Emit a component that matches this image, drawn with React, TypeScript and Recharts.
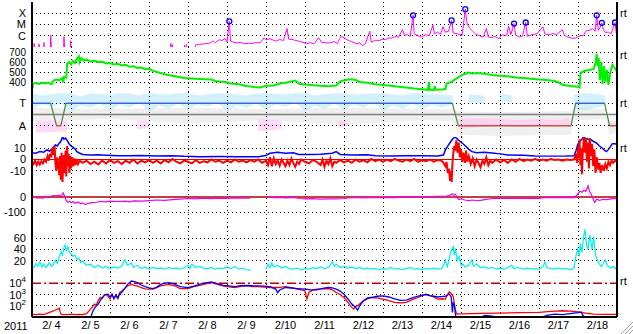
import React from "react";
import { ComposedChart, Line, Area, XAxis, YAxis, ReferenceLine } from "recharts";

// ── Data (t = days since 2011-02-04 00:00 UT) ────────────────────────────────

type Pt = [number, number | null];
type Band = [number, number | null, number | null];

const DAY_LABELS = ["2/ 4", "2/ 5", "2/ 6", "2/ 7", "2/ 8", "2/ 9", "2/10", "2/11", "2/12", "2/13", "2/14", "2/15", "2/16", "2/17", "2/18"];
const YEAR_LABEL = "2011";

const XRAY_CLASSES = ["X", "M", "C"];
const XRAY_CLASS_FLUX = [1e-4, 1e-5, 1e-6];
const SECTOR_LABELS = ["T", "A"];
const SECTOR_TICKS = [1, -1];

// GOES X-ray flux, W/m2
const XRAY: Pt[] = [
  [0, 5e-8], [0.05, 5e-8], [0.054, 2.1e-7], [0.06, 5e-8], [0.17, 5e-8], [0.18, 1.9e-7], [0.19, 5e-8],
  [0.3, 5e-8], [0.31, 2.5e-7], [0.32, 5e-8], [0.47, 5e-8], [0.48, 1.1e-6], [0.5, 5e-8], [0.81, 5e-8],
  [0.82, 7.9e-7], [0.84, 5e-8], [0.98, 5e-8], [0.99, 3.6e-7], [1.0, 5e-8], [3.55, 5e-8], [3.56, 2.1e-7],
  [3.58, 5e-8], [3.6, 1.6e-7], [3.62, 5e-8], [3.9, 5e-8], [3.91, 1.4e-7], [3.93, 5e-8], [3.96, 1.6e-7],
  [3.98, 5e-8], [4.18, 5e-8], [4.19, 1.5e-7], [4.3, 1.7e-7], [4.4, 1.9e-7], [4.5, 2.1e-7], [4.57, 2.3e-7],
  [4.65, 3.5e-7], [4.7, 2.4e-7], [4.8, 4.4e-7], [4.87, 3.8e-7], [4.95, 5.5e-7], [5.0, 2.8e-7], [5.06, 1.9e-5],
  [5.09, 3.3e-7], [5.15, 2.8e-7], [5.26, 2.3e-7], [5.35, 2.6e-7], [5.46, 1.9e-7], [5.55, 2.2e-7], [5.66, 2.1e-7],
  [5.75, 2.5e-7], [5.85, 2.3e-7], [5.95, 6.6e-7], [6.0, 4.4e-7], [6.1, 5.4e-7], [6.25, 3.3e-7], [6.35, 4.6e-7],
  [6.45, 3.8e-7], [6.54, 4.4e-6], [6.58, 5.0e-7], [6.7, 4.4e-7], [6.84, 3.3e-7], [6.95, 2.6e-7], [7.04, 2.0e-7],
  [7.15, 2.4e-7], [7.23, 1.9e-7], [7.35, 6.6e-7], [7.43, 2.6e-7], [7.55, 2.3e-7], [7.63, 2.3e-7], [7.75, 3.0e-7],
  [7.83, 2.1e-7], [7.92, 8.7e-7], [7.97, 7.6e-7], [8.05, 5.0e-7], [8.12, 3.8e-7], [8.2, 3.0e-7], [8.32, 1.9e-7],
  [8.4, 2.4e-7], [8.47, 1.3e-7], [8.55, 2.0e-7], [8.66, 2.5e-6], [8.7, 2.6e-7], [8.8, 4.0e-7], [8.91, 3.8e-7],
  [9.0, 5.0e-7], [9.06, 4.4e-7], [9.15, 6.6e-7], [9.21, 6.2e-7], [9.3, 8.0e-7], [9.4, 7.6e-7], [9.5, 3.5e-6],
  [9.55, 1.07e-6], [9.63, 1.3e-6], [9.7, 8.7e-7], [9.77, 6.6e-5], [9.8, 1.5e-6], [9.9, 1.0e-6], [9.99, 7.6e-7],
  [10.08, 1.2e-6], [10.19, 1.07e-6], [10.28, 8.7e-6], [10.32, 1.5e-6], [10.4, 2.1e-6], [10.47, 1.3e-6],
  [10.54, 6.2e-6], [10.6, 2.1e-6], [10.68, 2.5e-6], [10.76, 2.3e-5], [10.8, 1.8e-6], [10.9, 1.5e-6],
  [11.03, 1.07e-6], [11.11, 2.3e-4], [11.16, 1.0e-5], [11.23, 4.4e-6], [11.3, 2.5e-6], [11.37, 1.5e-6],
  [11.47, 1.0e-6], [11.57, 7.6e-7], [11.65, 4.4e-6], [11.7, 8.0e-7], [11.77, 6.6e-7], [11.87, 8.7e-7],
  [11.97, 5.4e-7], [12.05, 1.2e-6], [12.17, 1.07e-6], [12.22, 7.1e-6], [12.28, 1.3e-6], [12.36, 1.2e-5],
  [12.4, 1.1e-6], [12.5, 7.6e-7], [12.58, 1.0e-6], [12.66, 1.5e-5], [12.7, 9.0e-7], [12.8, 1.2e-6],
  [12.95, 1.5e-6], [13.1, 6.2e-6], [13.15, 1.5e-6], [13.25, 1.2e-6], [13.35, 1.5e-6], [13.45, 1.3e-6],
  [13.6, 3.5e-6], [13.65, 1.07e-6], [13.74, 7.6e-7], [13.85, 6.0e-7], [13.94, 6.2e-7], [14.05, 1.0e-6],
  [14.14, 1.07e-6], [14.22, 3.0e-6], [14.29, 3.0e-6], [14.38, 4.4e-6], [14.44, 2.5e-6], [14.48, 6.6e-5],
  [14.52, 3.0e-6], [14.56, 5.0e-6], [14.61, 1.4e-5], [14.65, 3.5e-6], [14.7, 2.0e-6], [14.78, 2.1e-6],
  [14.85, 1.5e-6], [14.95, 1.5e-5], [14.98, 1.8e-6], [15, 1.5e-6],
];

// flares of class M and above
const FLARES: Pt[] = [
  [5.06, 1.9e-5], [9.77, 6.6e-5], [10.76, 2.3e-5], [11.11, 2.3e-4], [12.36, 1.2e-5],
  [12.66, 1.5e-5], [14.48, 6.6e-5], [14.61, 1.4e-5], [14.95, 1.5e-5],
];

// solar wind speed, km/s
const SPEED: Pt[] = [
  [0, 320], [0.03, 385], [0.1, 390], [0.18, 380], [0.25, 392], [0.33, 385], [0.42, 395], [0.5, 378],
  [0.55, 415], [0.62, 425], [0.7, 418], [0.78, 440], [0.8, 395], [0.82, 450], [0.88, 445], [0.9, 580],
  [0.95, 600], [1.0, 575], [1.05, 610], [1.1, 590], [1.15, 630], [1.2, 655], [1.22, 600], [1.26, 640],
  [1.32, 615], [1.4, 625], [1.5, 605], [1.6, 612], [1.7, 598], [1.8, 605], [1.9, 585], [2.0, 590],
  [2.1, 575], [2.2, 582], [2.3, 565], [2.4, 572], [2.5, 552], [2.6, 558], [2.7, 540], [2.8, 545],
  [2.9, 528], [3.0, 532], [3.1, 512], [3.2, 500], [3.3, 490], [3.4, 478], [3.5, 470], [3.6, 462],
  [3.7, 455], [3.8, 448], [3.9, 440], [4.0, 437], [4.2, 432], [4.4, 428], [4.6, 425], [4.7, 410],
  [4.8, 405], [5.0, 398], [5.1, 385], [5.3, 378], [5.5, 360], [5.7, 350], [5.85, 345], [6.0, 362],
  [6.2, 365], [6.35, 385], [6.5, 392], [6.65, 405], [6.75, 415], [6.85, 382], [7.0, 375], [7.2, 368],
  [7.4, 362], [7.6, 358], [7.8, 365], [7.9, 405], [8.0, 415], [8.1, 425], [8.2, 428], [8.3, 420],
  [8.4, 400], [8.6, 392], [8.8, 378], [9.0, 370], [9.2, 362], [9.4, 352], [9.6, 345], [9.8, 335],
  [10.0, 328], [10.15, 322], [10.18, 400], [10.2, 322], [10.3, 320], [10.33, 360], [10.35, 322],
  [10.5, 325], [10.6, 330], [10.63, 385], [10.7, 392], [10.78, 405], [10.88, 435], [10.95, 450],
  [11.03, 472], [11.1, 480], [11.18, 495], [11.3, 485], [11.4, 490], [11.6, 482], [11.8, 470],
  [12.0, 462], [12.2, 458], [12.4, 445], [12.6, 440], [12.8, 432], [13.0, 425], [13.2, 420],
  [13.4, 410], [13.5, 395], [13.6, 372], [13.8, 360], [14.0, 352], [14.04, 345], [14.06, 480],
  [14.1, 500], [14.2, 515], [14.3, 520], [14.4, 530], [14.45, 590], [14.48, 680], [14.5, 560],
  [14.53, 640], [14.56, 420], [14.6, 600], [14.63, 380], [14.67, 560], [14.7, 400], [14.74, 520],
  [14.78, 370], [14.82, 480], [14.88, 570], [14.93, 545], [15, 505],
];

// IMF sector: 1 = toward, -1 = away
const SECTOR: Pt[] = [
  [0, 1], [0.48, 1], [0.63, -1], [0.74, -1], [0.87, 1], [10.78, 1], [10.93, -1],
  [13.82, -1], [13.94, 1], [14.68, 1], [14.81, -1], [15, -1],
];

// IMF angle clouds: [t, low, high]
const TOWARD_CLOUD: Band[] = [
  [0, 0.5, 1.9], [0.25, 0.9, 1.7], [0.5, 0.7, 1.8], [0.75, 1.0, 1.9], [1, 0.3, 1.9], [1.25, 0.8, 1.6],
  [1.5, 0.6, 1.9], [1.75, 1.0, 1.8], [2, 0.3, 1.8], [2.25, 0.9, 1.9], [2.5, 0.6, 1.9], [2.75, 1.1, 1.7],
  [3, 0.2, 1.9], [3.25, 0.8, 1.8], [3.5, 0.5, 1.8], [3.75, 1.0, 1.9], [4, 0.4, 1.9], [4.25, 0.9, 1.7],
  [4.5, 0.7, 1.8], [4.75, 1.1, 1.9], [5, 0.3, 1.9], [5.25, 0.8, 1.8], [5.5, 0.6, 1.7], [5.75, 1.0, 1.9],
  [6, 0.4, 1.9], [6.25, 0.9, 1.8], [6.5, 0.7, 1.8], [6.75, 1.1, 1.9], [7, 0.3, 1.9], [7.25, 0.8, 1.7],
  [7.5, 0.5, 1.8], [7.75, 1.0, 1.9], [8, 0.4, 1.9], [8.25, 0.9, 1.8], [8.5, 0.6, 1.8], [8.75, 1.1, 1.9],
  [9, 0.3, 1.9], [9.25, 0.8, 1.8], [9.5, 0.5, 1.7], [9.75, 1.0, 1.9], [10, 0.4, 1.9], [10.25, 0.9, 1.8],
  [10.5, 0.6, 1.8], [10.8, 0.9, 1.7], [10.85, null, null], [11.2, 1.1, 1.8], [11.6, 1.0, 1.7],
  [11.65, null, null], [12.0, 1.2, 1.8], [12.3, 1.1, 1.7], [12.35, null, null], [13.9, 0.5, 1.8],
  [14.2, 0.4, 1.9], [14.5, 0.6, 1.8], [14.7, 0.9, 1.7], [14.75, null, null],
];
const MIXED_CLOUD: Band[] = [
  [0, -0.6, 0.6], [2, -0.4, 0.5], [4, -0.8, 0.6], [6, -0.5, 0.5], [8, -0.9, 0.6], [10, -0.5, 0.5],
  [10.8, -0.6, 0.5], [10.9, -1.8, 0.3], [12, -1.9, 0.2], [13.8, -1.8, 0.3], [13.9, -0.5, 0.6],
  [14.7, -0.4, 0.5], [14.8, -1.8, -0.5], [15, -1.6, -0.6],
];
const AWAY_CLOUD: Band[] = [
  [0.1, -1.6, -0.6], [0.9, -1.5, -0.5], [0.95, null, null], [2.7, -1.3, -0.5], [3.0, -1.2, -0.6],
  [3.1, null, null], [5.8, -1.5, -0.4], [6.4, -1.3, -0.5], [6.5, null, null], [7.85, -1.2, -0.5],
  [8.1, -1.0, -0.6], [8.2, null, null], [10.95, -1.3, -0.4], [11.5, -1.1, -0.3], [12, -1.0, -0.4],
  [12.5, -1.1, -0.5], [13, -1.0, -0.4], [13.5, -1.0, -0.5], [13.8, -1.1, -0.3], [13.85, null, null],
  [14.82, -1.0, -0.7], [15, -1.0, -0.7],
];

// IMF Bt, nT
const BT: Pt[] = [
  [0, 6], [0.1, 5.5], [0.2, 7], [0.3, 6.5], [0.38, 8.5], [0.45, 7.5], [0.5, 9], [0.55, 11], [0.6, 13],
  [0.65, 12], [0.7, 14.5], [0.74, 16], [0.78, 20], [0.82, 18], [0.86, 19], [0.9, 17], [0.95, 14],
  [1.0, 12], [1.05, 11], [1.1, 9.5], [1.15, 7], [1.2, 6], [1.3, 4.5], [1.5, 4], [1.7, 4.2], [1.9, 3.8],
  [2.2, 3.4], [2.5, 3.3], [2.8, 3.5], [3.2, 3.2], [3.6, 3.3], [3.9, 2.8], [4.3, 2.5], [4.8, 2.6],
  [5.3, 2.4], [5.8, 2.5], [6.0, 3.5], [6.1, 5.5], [6.3, 6.5], [6.5, 5.5], [6.7, 6], [6.84, 4.5],
  [7.1, 4.4], [7.4, 4.6], [7.7, 5.5], [7.8, 7], [7.9, 4.5], [8.2, 4], [8.6, 4.2], [8.8, 3.3],
  [9.2, 3.2], [9.6, 3.4], [10.0, 3.3], [10.4, 3.2], [10.55, 4], [10.6, 8.5], [10.68, 13], [10.74, 16],
  [10.78, 18], [10.84, 20], [10.88, 19], [10.93, 17.5], [10.98, 16], [11.05, 14], [11.13, 11.5],
  [11.2, 9], [11.28, 7], [11.4, 6], [11.6, 6.5], [11.8, 5.8], [12.0, 5], [12.2, 4], [12.6, 3.8],
  [12.9, 3.2], [13.3, 3], [13.7, 3.1], [13.9, 3.4], [13.95, 8], [13.99, 13], [14.04, 16], [14.09, 17.5],
  [14.14, 20], [14.19, 19], [14.26, 18], [14.33, 17.5], [14.4, 16], [14.48, 14.5], [14.55, 12],
  [14.63, 10], [14.68, 8], [14.73, 7], [14.78, 9], [14.83, 11.5], [14.88, 14], [14.95, 14], [15, 13.5],
];

// IMF Bz, nT
const BZ: Pt[] = [
  [0, -2], [0.04, -4], [0.08, -1], [0.12, -5], [0.16, -2], [0.2, -4.5], [0.24, -1.5], [0.28, -3.5],
  [0.32, 0], [0.36, -2], [0.4, 3], [0.43, -1], [0.46, 5], [0.49, 2], [0.52, 10], [0.55, 4], [0.58, 12],
  [0.6, -3], [0.62, -10], [0.65, 2], [0.68, -8], [0.7, -14], [0.72, 3], [0.74, -18], [0.76, 6],
  [0.78, -21], [0.8, -5], [0.82, 4], [0.84, -12], [0.86, 8], [0.88, -15], [0.9, 12], [0.92, -6],
  [0.94, 5], [0.96, -12], [0.98, 3], [1.0, -8], [1.03, 2], [1.06, -6], [1.09, 1], [1.12, -5], [1.15, 0],
  [1.18, -4], [1.22, -1], [1.3, -3], [1.4, -1], [1.5, -4], [1.6, -2], [1.7, -4.5], [1.8, -1], [1.9, -3.5],
  [2.0, -0.5], [2.1, -3], [2.2, -1.5], [2.3, -4], [2.4, -1], [2.5, -3], [2.6, 0], [2.7, -3.5], [2.8, -1],
  [2.9, -2.5], [3.0, -0.5], [3.1, -3], [3.2, -1], [3.3, -3.5], [3.4, -0.5], [3.5, -2.5], [3.6, 0.5],
  [3.7, -2], [3.8, -3.5], [3.9, -1], [4.0, -2], [4.1, -3.5], [4.2, -0.5], [4.3, -3], [4.4, -1.5],
  [4.5, -2.5], [4.6, 0], [4.7, -2], [4.8, -1], [4.9, -3], [5.0, -1], [5.1, -2.5], [5.2, 0], [5.3, -2],
  [5.4, -1], [5.5, -2.5], [5.6, -0.5], [5.7, -2], [5.8, 0], [5.9, -3], [6.0, -1], [6.05, -5], [6.1, 2],
  [6.15, -6], [6.2, 1], [6.25, -4], [6.3, -1], [6.35, -5.5], [6.4, 0], [6.45, -3], [6.5, -6], [6.55, -1],
  [6.6, -5], [6.65, 1], [6.7, -3], [6.75, -6.5], [6.8, -2], [6.85, -4], [6.9, 0], [7.0, -2], [7.1, -3.5],
  [7.2, -0.5], [7.3, -2], [7.4, -5], [7.45, 0], [7.5, -6.5], [7.55, -1], [7.6, -4], [7.65, 1], [7.7, -6],
  [7.75, -2], [7.8, -3], [7.9, -0.5], [8.0, -2.5], [8.1, -1], [8.2, -3], [8.3, 0], [8.4, -2], [8.5, -0.5],
  [8.6, -2.5], [8.7, 0.5], [8.8, -1.5], [8.9, 0], [9.0, -2], [9.1, 0], [9.2, -1.5], [9.3, 0.5], [9.4, -1],
  [9.5, -2], [9.6, 0], [9.7, -1.5], [9.8, 0.5], [9.9, -2], [10.0, -0.5], [10.1, -1.5], [10.2, 0],
  [10.3, -2], [10.4, -0.5], [10.5, -1], [10.55, -3], [10.6, -6], [10.63, -2], [10.66, -12], [10.69, -8],
  [10.72, -19], [10.74, -10], [10.76, -21], [10.78, -4], [10.8, 5], [10.83, 12], [10.86, 8], [10.88, 17],
  [10.91, 6], [10.94, 15], [10.97, 2], [11.0, 9], [11.03, -2], [11.06, 6], [11.1, -3], [11.13, 8],
  [11.16, -2], [11.2, 3], [11.25, -4], [11.3, 1], [11.35, -6], [11.4, 0], [11.45, -3], [11.5, -7],
  [11.55, -1], [11.6, -4], [11.65, 2], [11.7, -5], [11.75, -1], [11.8, -3], [11.9, 0], [12.0, -2.5],
  [12.1, -0.5], [12.2, -3], [12.3, 0], [12.4, -2], [12.5, 0.5], [12.6, -1.5], [12.7, 0], [12.8, -1],
  [12.9, 0.5], [13.0, -1], [13.1, 0], [13.2, -1], [13.3, 0.5], [13.4, -0.5], [13.5, 0], [13.6, -1],
  [13.7, 0], [13.8, -0.5], [13.9, 0], [13.95, 5], [13.98, -3], [14.0, 12], [14.02, 2], [14.04, 18],
  [14.06, -5], [14.08, 10], [14.1, -13], [14.12, 4], [14.15, 20], [14.18, 6], [14.2, 19], [14.23, -2],
  [14.25, 15], [14.28, -8], [14.3, 19], [14.33, 3], [14.36, 14], [14.39, -6], [14.42, 9], [14.45, -12],
  [14.48, 2], [14.52, -9], [14.55, -3], [14.58, -12], [14.62, -5], [14.66, -10], [14.7, -4], [14.74, -8],
  [14.78, -2], [14.82, -5], [14.86, -1], [14.9, -3], [14.95, -1], [15, -2],
];

// Dst, nT
const DST: Pt[] = [
  [0, 4], [0.08, 3], [0.13, -7], [0.2, -5], [0.3, -8], [0.33, 4], [0.45, 2], [0.53, 10], [0.62, 8],
  [0.7, 12], [0.75, 5], [0.8, 27], [0.83, 8], [0.87, -20], [0.92, -35], [0.97, -28], [1.0, -40],
  [1.05, -30], [1.1, -42], [1.17, -33], [1.25, -45], [1.3, -40], [1.37, -51], [1.45, -42], [1.55, -38],
  [1.65, -35], [1.75, -30], [1.9, -33], [2.0, -28], [2.2, -30], [2.4, -27], [2.5, -33], [2.6, -26],
  [2.8, -28], [3.0, -24], [3.2, -20], [3.4, -22], [3.6, -18], [3.8, -14], [4.0, -10], [4.2, -12],
  [4.4, -8], [4.6, -11], [4.8, -7], [5.0, -9], [5.2, -6], [5.4, -8], [5.6, -7], [5.62, null],
  [6.05, 0], [6.2, -4], [6.4, -2], [6.5, -6], [6.7, -3], [6.85, -10], [7.0, -13], [7.2, -11],
  [7.4, -14], [7.6, -12], [7.8, -13], [8.0, -10], [8.15, -5], [8.3, -2], [8.5, -6], [8.7, -3],
  [8.9, -5], [9.1, -2], [9.3, -4], [9.5, -1], [9.7, -3], [9.8, 2], [10.0, 3], [10.2, 1], [10.4, 4],
  [10.6, 5], [10.7, 10], [10.78, 22], [10.82, 12], [10.86, 18], [10.9, -5], [10.95, -18], [11.0, -12],
  [11.1, -20], [11.2, -24], [11.3, -20], [11.4, -25], [11.5, -22], [11.65, -16], [11.8, -10],
  [12.0, -8], [12.2, -10], [12.4, -7], [12.6, -9], [12.8, -8], [13.0, -10], [13.1, -4], [13.3, -2],
  [13.5, -5], [13.7, -2], [13.9, -4], [14.0, 20], [14.05, 40], [14.1, 32], [14.15, 45], [14.2, 38],
  [14.26, 75], [14.3, 35], [14.33, 25], [14.38, -10], [14.43, -35], [14.48, -15], [14.55, -22],
  [14.65, -15], [14.75, -18], [14.85, -13], [15, -10],
];

// geomagnetic activity index (cyan panel)
const ACTIVITY: Pt[] = [
  [0, 12], [0.05, 8], [0.1, 15], [0.15, 10], [0.2, 18], [0.25, 9], [0.3, 14], [0.35, 8], [0.4, 12],
  [0.45, 16], [0.5, 10], [0.55, 14], [0.6, 21], [0.65, 15], [0.7, 28], [0.75, 36], [0.78, 30],
  [0.82, 44], [0.85, 48], [0.88, 38], [0.92, 45], [0.95, 36], [1.0, 32], [1.05, 28], [1.1, 30],
  [1.15, 22], [1.2, 25], [1.25, 17], [1.3, 19], [1.4, 12], [1.5, 14], [1.6, 8], [1.7, 12], [1.8, 7],
  [1.9, 10], [2.0, 6], [2.1, 9], [2.2, 7], [2.3, 10], [2.38, 22], [2.45, 12], [2.55, 16], [2.6, 8],
  [2.7, 12], [2.8, 6], [2.9, 9], [3.0, 5], [3.1, 8], [3.2, 6], [3.3, 7], [3.4, 5], [3.5, 8], [3.6, 6],
  [3.7, 7], [3.8, 5], [3.9, 8], [4.0, 12], [4.05, 6], [4.1, 14], [4.2, 8], [4.3, 10], [4.4, 7],
  [4.5, 6], [4.6, 8], [4.7, 5], [4.8, 7], [4.9, 6], [5.0, 9], [5.1, 6], [5.2, 10], [5.3, 5], [5.4, 7],
  [5.5, 4], [5.6, 3], [5.62, null], [6.0, 5], [6.05, 14], [6.1, 8], [6.15, 16], [6.2, 9], [6.3, 12],
  [6.4, 7], [6.5, 10], [6.6, 6], [6.7, 5], [6.8, 7], [6.9, 4], [7.0, 6], [7.1, 5], [7.2, 8], [7.3, 6],
  [7.4, 9], [7.5, 6], [7.6, 8], [7.7, 18], [7.75, 10], [7.8, 14], [7.9, 8], [8.0, 10], [8.1, 7],
  [8.2, 9], [8.3, 6], [8.4, 8], [8.5, 5], [8.6, 7], [8.7, 5], [8.8, 6], [8.9, 4], [9.0, 6], [9.1, 5],
  [9.2, 8], [9.3, 5], [9.4, 6], [9.5, 4], [9.6, 6], [9.7, 8], [9.8, 5], [9.9, 6], [10.0, 4], [10.1, 6],
  [10.2, 5], [10.3, 7], [10.4, 5], [10.5, 6], [10.55, 12], [10.6, 21], [10.65, 8], [10.7, 25],
  [10.75, 38], [10.8, 45], [10.83, 30], [10.86, 42], [10.9, 20], [10.95, 28], [11.0, 12], [11.05, 14],
  [11.1, 9], [11.2, 12], [11.28, 21], [11.32, 10], [11.4, 14], [11.5, 8], [11.6, 9], [11.7, 6],
  [11.8, 8], [11.9, 5], [12.0, 7], [12.1, 5], [12.2, 8], [12.3, 12], [12.35, 6], [12.45, 8], [12.6, 5],
  [12.7, 7], [12.8, 5], [12.9, 6], [13.0, 5], [13.1, 9], [13.15, 18], [13.2, 8], [13.3, 6], [13.4, 5],
  [13.5, 7], [13.6, 5], [13.7, 6], [13.8, 4], [13.9, 8], [13.95, 30], [14.0, 42], [14.03, 28],
  [14.06, 50], [14.1, 35], [14.14, 62], [14.18, 76], [14.22, 48], [14.26, 40], [14.3, 66], [14.33, 55],
  [14.36, 40], [14.4, 63], [14.45, 30], [14.5, 21], [14.55, 14], [14.6, 10], [14.65, 16], [14.7, 21],
  [14.75, 12], [14.8, 9], [14.85, 7], [14.9, 10], [14.95, 6], [15, 8],
];

// electron flux, red and blue channels
const ELECTRON_RED: Pt[] = [
  [0, 17], [0.1, 16], [0.2, 18], [0.3, 16], [0.4, 22], [0.5, 30], [0.6, 42], [0.7, 60], [0.72, 30],
  [0.75, 17], [0.9, 16], [1.0, 18], [1.1, 16], [1.2, 17], [1.3, 16], [1.4, 20], [1.5, 50], [1.55, 80],
  [1.6, 140], [1.65, 110], [1.7, 300], [1.75, 560], [1.8, 450], [1.85, 900], [1.9, 1070], [1.95, 700],
  [2.0, 400], [2.05, 900], [2.1, 500], [2.15, 800], [2.2, 420], [2.25, 1500], [2.3, 2000], [2.38, 3500],
  [2.45, 5750], [2.55, 7940], [2.62, 6600], [2.7, 5750], [2.8, 4000], [2.9, 3160], [3.0, 2950],
  [3.1, 2950], [3.2, 4000], [3.3, 5750], [3.4, 6800], [3.5, 7940], [3.65, 6000], [3.8, 3390],
  [4.0, 3390], [4.15, 5000], [4.3, 6600], [4.45, 9000], [4.6, 11500], [4.75, 8000], [4.9, 5750],
  [5.05, 4800], [5.2, 4170], [5.35, 5200], [5.5, 5750], [5.65, 5000], [5.8, 5010], [5.95, 4500],
  [6.1, 4170], [6.3, 4170], [6.5, 5010], [6.65, 4000], [6.8, 2950], [6.9, 2600], [7.0, 2090],
  [7.05, 400], [7.1, 1500], [7.2, 2400], [7.3, 2950], [7.45, 3100], [7.6, 3390], [7.7, 2600],
  [7.8, 1500], [7.9, 1000], [8.0, 540], [8.1, 200], [8.2, 71], [8.25, 50], [8.3, 90], [8.35, 100],
  [8.45, 200], [8.5, 275], [8.6, 400], [8.7, 540], [8.85, 500], [9.0, 390], [9.15, 280], [9.3, 200],
  [9.45, 180], [9.6, 200], [9.75, 350], [9.9, 540], [10.0, 800], [10.1, 1070], [10.2, 800], [10.3, 600],
  [10.4, 390], [10.5, 420], [10.6, 390], [10.65, 900], [10.7, 1740], [10.75, 1200], [10.8, 700],
  [10.85, 50], [10.88, 24], [10.9, 18], [11.0, 19], [11.5, 21], [12.0, 22], [12.5, 24], [13.0, 26],
  [13.3, 32], [13.6, 36], [13.8, 33], [14.0, 28], [14.2, 22], [14.4, 18], [14.7, 17], [15, 17],
];
const ELECTRON_BLUE: Pt[] = [
  [0, 8], [1.5, 8], [1.55, 26], [1.6, 60], [1.65, 100], [1.7, 141], [1.75, 300], [1.8, 500],
  [1.85, 790], [1.9, 1000], [1.95, 1070], [2.0, 600], [2.05, 1100], [2.1, 400], [2.15, 900], [2.2, 500],
  [2.25, 1200], [2.3, 1500], [2.38, 3500], [2.45, 7940], [2.55, 15800], [2.62, 14000], [2.7, 11500],
  [2.8, 7000], [2.9, 5010], [3.0, 3800], [3.1, 3390], [3.2, 4500], [3.3, 7940], [3.4, 10000],
  [3.5, 11500], [3.65, 8500], [3.8, 5010], [4.0, 4170], [4.15, 5500], [4.3, 7940], [4.45, 11000],
  [4.6, 13200], [4.75, 9500], [4.9, 6600], [5.05, 5800], [5.2, 5010], [5.35, 6000], [5.5, 6600],
  [5.65, 6000], [5.8, 5750], [5.95, 5500], [6.1, 5010], [6.25, 3000], [6.3, 1500], [6.35, 2500],
  [6.5, 4170], [6.65, 3800], [6.8, 3390], [7.0, 2950], [7.15, 2600], [7.3, 2570], [7.45, 3500],
  [7.6, 4170], [7.7, 3800], [7.8, 2950], [7.9, 2000], [8.0, 1070], [8.1, 400], [8.2, 141], [8.3, 71],
  [8.35, 40], [8.4, 100], [8.5, 275], [8.6, 500], [8.7, 540], [8.85, 700], [9.0, 760], [9.15, 600],
  [9.3, 400], [9.45, 300], [9.6, 320], [9.75, 500], [9.9, 700], [10.0, 900], [10.1, 1000], [10.2, 800],
  [10.3, 700], [10.4, 600], [10.5, 650], [10.6, 700], [10.65, 900], [10.7, 1100], [10.75, 600],
  [10.78, 26], [10.8, 200], [10.83, 100], [10.87, 8], [11.5, 8], [11.6, 14], [11.8, 12], [12.0, 8],
  [13.0, 8], [13.2, 14], [13.4, 18], [13.6, 16], [13.8, 20], [14.0, 24], [14.08, 28], [14.12, 15],
  [14.2, 8], [15, 8],
];

// ── Layout ────────────────────────────────────────────────────────────────────

const W = 633;
const PANEL_H = 45;
const FONT = "'Liberation Sans', Arial, Helvetica, sans-serif";
const BORDER = { stroke: "#000", strokeWidth: 2 };
const TICK = { fontSize: 11, fill: "#000" };

const rows = (pts: Pt[]) => pts.map(([t, v]) => ({ t, v }));
const bandRows = (pts: Band[]) =>
  pts.map(([t, lo, hi]) => ({ t, r: lo === null || hi === null ? null : [lo, hi] }));

function PowTick(props: any) {
  const { x, y, payload } = props;
  const exp = Math.round(Math.log10(payload.value));
  return (
    <text x={x} y={y} dy={4} textAnchor="end" fontSize={11} fill="#000">
      <tspan>10</tspan>
      <tspan dy={-5} fontSize={8}>{exp}</tspan>
    </text>
  );
}

interface PanelProps {
  index: number;
  domain: [number, number];
  log?: boolean;
  ticks: number[];
  label?: (v: number) => string;
  powTicks?: boolean;
  tickSize?: number;
  rt?: number;
  dotted: number[];
  last?: boolean;
  children: React.ReactNode;
}

function Panel({ index, domain, log, ticks, label, powTicks, tickSize, rt, dotted, last, children }: PanelProps) {
  const axisH = last ? 17 : 0;
  const leftTick = tickSize ? { ...TICK, fontSize: tickSize } : TICK;
  return (
    <div style={{ position: "absolute", left: 0, top: 1 + index * PANEL_H }}>
      <ComposedChart
        width={W}
        height={PANEL_H + 1 + (last ? axisH : 1)}
        margin={{ top: 1, right: 0, bottom: last ? 0 : 1, left: 0 }}
      >
        <XAxis
          xAxisId="b"
          dataKey="t"
          type="number"
          domain={[0, DAY_LABELS.length]}
          allowDataOverflow
          ticks={last ? DAY_LABELS.map((_, i) => i + 0.5) : []}
          tickFormatter={(v: number) => DAY_LABELS[Math.floor(v)] ?? ""}
          tick={last ? TICK : false}
          tickLine={false}
          tickSize={0}
          tickMargin={4}
          interval={0}
          height={axisH}
          axisLine={BORDER}
        />
        <XAxis
          xAxisId="t"
          orientation="top"
          dataKey="t"
          type="number"
          domain={[0, DAY_LABELS.length]}
          ticks={[]}
          tick={false}
          tickLine={false}
          height={0}
          axisLine={BORDER}
        />
        <YAxis
          yAxisId="l"
          type="number"
          scale={log ? "log" : "linear"}
          domain={domain}
          allowDataOverflow
          ticks={ticks}
          interval={0}
          tickFormatter={label}
          tick={powTicks ? <PowTick /> : leftTick}
          tickLine={false}
          tickSize={0}
          tickMargin={6}
          width={32}
          axisLine={BORDER}
        />
        <YAxis
          yAxisId="r"
          orientation="right"
          type="number"
          scale={log ? "log" : "linear"}
          domain={domain}
          allowDataOverflow
          ticks={rt === undefined ? [] : [rt]}
          interval={0}
          tickFormatter={() => "rt"}
          tick={TICK}
          tickLine={false}
          tickSize={0}
          tickMargin={3}
          width={16}
          axisLine={BORDER}
        />
        {DAY_LABELS.slice(1).map((_, i) => (
          <ReferenceLine
            key={`v${i}`}
            xAxisId="b"
            yAxisId="l"
            x={i + 1}
            stroke="#000"
            strokeDasharray="1 3"
            shapeRendering="crispEdges"
          />
        ))}
        {dotted.map((v) => (
          <ReferenceLine
            key={`h${v}`}
            xAxisId="b"
            yAxisId="l"
            y={v}
            stroke="#000"
            strokeDasharray="1 3"
            shapeRendering="crispEdges"
          />
        ))}
        {children}
      </ComposedChart>
    </div>
  );
}

const lineProps = {
  xAxisId: "b",
  yAxisId: "l",
  dataKey: "v",
  type: "linear" as const,
  dot: false,
  activeDot: false,
  isAnimationActive: false,
};

const areaProps = {
  xAxisId: "b",
  yAxisId: "l",
  dataKey: "r",
  type: "linear" as const,
  stroke: "none",
  isAnimationActive: false,
  activeDot: false,
};

export default function App() {
  const sectorRows = rows(SECTOR);
  const toward = sectorRows.map((r) => ({ t: r.t, v: r.v === 1 ? 1 : null }));
  const away = sectorRows.map((r) => ({ t: r.t, v: r.v === -1 ? -1 : null }));

  return (
    <div
      style={{
        position: "absolute",
        left: 0,
        top: 0,
        width: W,
        height: 334,
        background: "#fff",
        fontFamily: FONT,
        overflow: "hidden",
      }}
    >
      <Panel
        index={0}
        domain={[1e-7, 1e-3]}
        log
        ticks={XRAY_CLASS_FLUX}
        label={(v) => XRAY_CLASSES[XRAY_CLASS_FLUX.findIndex((f) => Math.abs(Math.log10(f / v)) < 0.1)] ?? ""}
        rt={1e-4}
        dotted={XRAY_CLASS_FLUX}
      >
        <Line {...lineProps} data={rows(XRAY)} stroke="#ff00ff" strokeWidth={1} />
        <Line
          {...lineProps}
          data={rows(FLARES)}
          stroke="none"
          dot={{ r: 2.5, stroke: "#0000ff", strokeWidth: 1.3, fill: "none" }}
        />
      </Panel>

      <Panel index={1} domain={[300, 750]} ticks={[700, 600, 500, 400]} tickSize={10} rt={670} dotted={[700, 600, 500, 400]}>
        <Line {...lineProps} data={rows(SPEED)} stroke="#00f000" strokeWidth={2} />
      </Panel>

      <Panel
        index={2}
        domain={[-2, 2]}
        ticks={SECTOR_TICKS}
        label={(v) => SECTOR_LABELS[SECTOR_TICKS.indexOf(v)] ?? ""}
        rt={1}
        dotted={SECTOR_TICKS}
      >
        <Area {...areaProps} data={bandRows(MIXED_CLOUD)} fill="#d8d8d8" fillOpacity={0.4} />
        <Area {...areaProps} data={bandRows(TOWARD_CLOUD)} fill="#b4e6ff" fillOpacity={0.6} />
        <Area {...areaProps} data={bandRows(AWAY_CLOUD)} fill="#ffc0f2" fillOpacity={0.6} />
        <ReferenceLine xAxisId="b" yAxisId="l" y={0} stroke="#808080" strokeWidth={1.5} />
        <Line {...lineProps} data={sectorRows} stroke="#3d8b3d" strokeWidth={1.2} />
        <Line {...lineProps} data={toward} stroke="#3050ff" strokeWidth={1.2} />
        <Line {...lineProps} data={away} stroke="#ff3030" strokeWidth={1.2} />
      </Panel>

      <Panel index={3} domain={[-20, 20]} ticks={[10, 0, -10]} rt={10} dotted={[10, -10]}>
        <ReferenceLine xAxisId="b" yAxisId="l" y={0} stroke="#e00000" strokeWidth={1} />
        <Line {...lineProps} data={rows(BT)} stroke="#0000ff" strokeWidth={1.5} />
        <Line {...lineProps} data={rows(BZ)} stroke="#ff0000" strokeWidth={2} />
      </Panel>

      <Panel index={4} domain={[-200, 100]} ticks={[0, -100]} dotted={[-100]}>
        <ReferenceLine xAxisId="b" yAxisId="l" y={0} stroke="#b00000" strokeWidth={1.5} />
        <Line {...lineProps} data={rows(DST)} stroke="#ee00ee" strokeWidth={1.2} />
      </Panel>

      <Panel index={5} domain={[0, 80]} ticks={[60, 40, 20]} dotted={[60, 40, 20]}>
        <Line {...lineProps} data={rows(ACTIVITY)} stroke="#00eeee" strokeWidth={1.2} />
      </Panel>

      <Panel index={6} domain={[10, 1e5]} log ticks={[1e4, 1e3, 1e2]} powTicks rt={1.5e4} dotted={[1e3, 1e2]} last>
        <ReferenceLine xAxisId="b" yAxisId="l" y={1e4} stroke="#c00000" strokeWidth={1.5} strokeDasharray="9 3 2 3" />
        <Line {...lineProps} data={rows(ELECTRON_RED)} stroke="#ff0000" strokeWidth={1.3} />
        <Line {...lineProps} data={rows(ELECTRON_BLUE)} stroke="#0000ff" strokeWidth={1.3} />
      </Panel>

      <div style={{ position: "absolute", left: 4, top: 319, fontSize: 11, lineHeight: "14px", color: "#000" }}>
        {YEAR_LABEL}
      </div>

      <svg width={14} height={14} style={{ position: "absolute", left: 619, top: 320 }}>
        {[4, 8, 12].map((k) => (
          <line key={k} x1={14 - k} y1={14} x2={14} y2={14 - k} stroke="#a0a0a0" strokeWidth={1} />
        ))}
      </svg>
    </div>
  );
}
